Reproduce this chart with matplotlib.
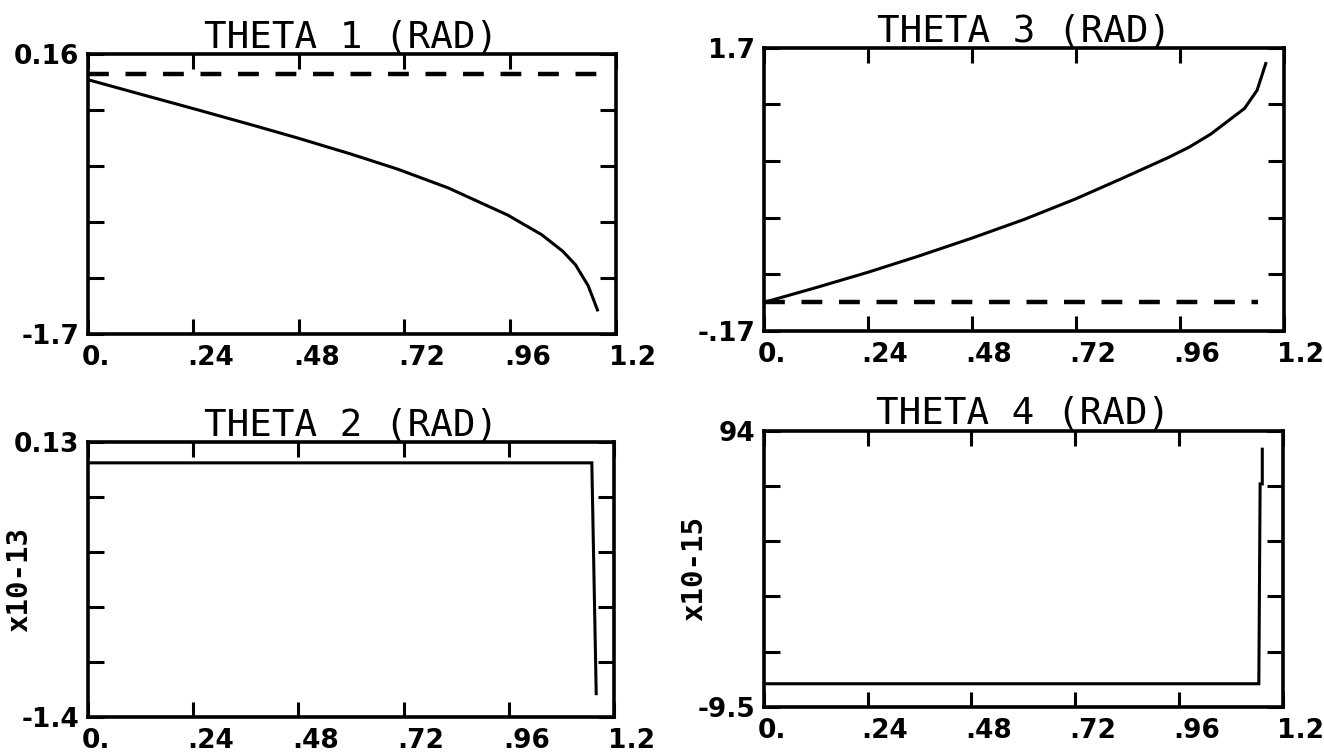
import matplotlib
matplotlib.use("Agg")
import matplotlib.pyplot as plt
from matplotlib.transforms import ScaledTranslation

plt.rcParams['lines.scale_dashes'] = False

# ---------------- data ----------------
x_ticks = [0.0, 0.24, 0.48, 0.72, 0.96, 1.2]
x_tick_labels = ["0.", ".24", ".48", ".72", ".96", "1.2"]

# THETA 1
t1_x = [0.0, 0.118, 0.243, 0.378, 0.474, 0.599, 0.705, 0.820, 0.955, 1.032, 1.080, 1.109, 1.138, 1.159]
t1_y = [-0.01, -0.105, -0.205, -0.315, -0.395, -0.505, -0.605, -0.73, -0.91, -1.04, -1.15, -1.24, -1.38, -1.54]
t1_ref_x = [0.0, 1.16]
t1_ref_y = [0.03, 0.03]
t1_lim = (-1.7, 0.16)
t1_lab = ("0.16", "-1.7")

# THETA 3
t3_x = [0.005, 0.122, 0.240, 0.357, 0.479, 0.601, 0.719, 0.826, 0.934, 0.983, 1.032, 1.110, 1.139, 1.159]
t3_y = [0.02, 0.115, 0.215, 0.322, 0.44, 0.565, 0.70, 0.835, 0.975, 1.045, 1.13, 1.30, 1.42, 1.597]
t3_ref_x = [0.0, 1.14]
t3_ref_y = [0.02, 0.02]
t3_lim = (-0.17, 1.7)
t3_lab = ("1.7", "-.17")

# THETA 2 (x10-13)
t2_x = [0.0, 1.149, 1.159]
t2_y = [0.014, 0.014, -1.27]
t2_lim = (-1.4, 0.13)
t2_lab = ("0.13", "-1.4")

# THETA 4 (x10-15)
t4_x = [0.0, 1.145, 1.148, 1.153, 1.153]
t4_y = [-0.8, -0.8, 74.0, 74.0, 87.0]
t4_lim = (-9.5, 94.0)
t4_lab = ("94", "-9.5")

titles = ["THETA 1 (RAD)", "THETA 3 (RAD)", "THETA 2 (RAD)", "THETA 4 (RAD)"]
scale_labels = [None, None, "x10-13", "x10-15"]

# ---------------- figure ----------------
W, H = 1324, 753
fig = plt.figure(figsize=(W / 100, H / 100), dpi=100)

def rect(l, r, t, b):
    return [l / W, 1 - b / H, (r - l) / W, (b - t) / H]

positions = [
    rect(87.6, 615.5, 54, 334),
    rect(763.8, 1283.5, 48, 330.5),
    rect(87.6, 614.2, 442, 717),
    rect(763.8, 1282.6, 430.5, 707),
]
label_x_px = [None, None, 19, 694]

series = [
    (t1_x, t1_y, t1_ref_x, t1_ref_y, t1_lim, t1_lab),
    (t3_x, t3_y, t3_ref_x, t3_ref_y, t3_lim, t3_lab),
    (t2_x, t2_y, None, None, t2_lim, t2_lab),
    (t4_x, t4_y, None, None, t4_lim, t4_lab),
]

title_font = dict(family="DejaVu Sans Mono", size=27)

for i, (pos, (xs, ys, rx, ry, lim, lab), title, slab) in enumerate(
        zip(positions, series, titles, scale_labels)):
    ax = fig.add_axes(pos)
    ax.plot(xs, ys, color="black", lw=2.2, solid_joinstyle="miter")
    if rx is not None:
        ax.plot(rx, ry, color="black", lw=3.2, linestyle=(0, (15, 12)))
    ax.set_xlim(0, 1.2)
    ax.set_ylim(*lim)
    for s in ax.spines.values():
        s.set_linewidth(2.6)
        s.set_color("black")

    ax.set_xticks(x_ticks, x_tick_labels)
    ax.tick_params(axis="x", direction="in", length=11, width=2.2, pad=8,
                   top=True, bottom=True, labelsize=19)
    lo, hi = lim
    yt = [lo + (hi - lo) * k / 5 for k in range(6)]
    ylabels = [lab[1], "", "", "", "", lab[0]]
    ax.set_yticks(yt, ylabels)
    ax.tick_params(axis="y", direction="in", length=11.5, width=2.2, pad=6,
                   left=True, right=True, labelsize=19)
    for t in ax.get_xticklabels() + ax.get_yticklabels():
        t.set_fontfamily("DejaVu Sans")
        t.set_fontweight("bold")
    off = ScaledTranslation(-6 / 100, 0, fig.dpi_scale_trans)
    for t in ax.get_xticklabels():
        t.set_horizontalalignment("left")
        t.set_transform(t.get_transform() + off)
    ax.set_title(title, pad=5, **title_font)
    if slab is not None:
        ax.set_ylabel(slab, fontfamily="DejaVu Sans Mono", fontweight="bold",
                      fontsize=21, va="center")
        l = pos[0] * W
        w = pos[2] * W
        ax.yaxis.set_label_coords((label_x_px[i] - l) / w, 0.5)

fig.savefig("out.png", dpi=100, facecolor="white")
